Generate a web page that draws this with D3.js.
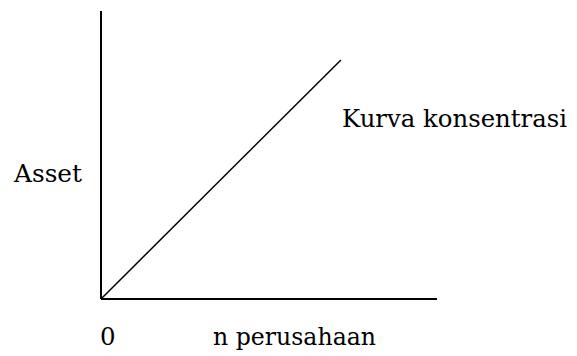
<!DOCTYPE html>
<html>
<head>
<meta charset="utf-8">
<script src="https://cdn.jsdelivr.net/npm/d3@7"></script>
<style>
html,body{margin:0;padding:0;background:#fff;}
svg{display:block;}
</style>
</head>
<body>
<svg id="chart" width="577" height="356"></svg>
<script>
// Data
const curveX = [0, 0.714];
const curveY = [0, 0.83];
const yLabel = "Asset";
const xLabel = "n perusahaan";
const originLabel = "0";
const curveLabel = "Kurva konsentrasi";

const svg = d3.select("#chart");
const x = d3.scaleLinear().domain([0, 1]).range([101, 437]);
const y = d3.scaleLinear().domain([0, 1]).range([299, 11]);

svg.append("line").attr("x1", x(0)).attr("x2", x(0)).attr("y1", y(0)).attr("y2", y(1))
  .attr("stroke", "#000").attr("stroke-width", 2);
svg.append("line").attr("x1", x(0)).attr("x2", x(1)).attr("y1", y(0)).attr("y2", y(0))
  .attr("stroke", "#000").attr("stroke-width", 2);

const pts = curveX.map((v, i) => [v, curveY[i]]);
svg.append("path").datum(pts)
  .attr("d", d3.line().x(d => x(d[0])).y(d => y(d[1])))
  .attr("fill", "none").attr("stroke", "#000").attr("stroke-width", 1.5);

const fs = 24.5;
const ff = "DejaVu Serif";
function label(tx, ty, t, len) {
  const el = svg.append("text").attr("x", tx).attr("y", ty)
    .attr("font-family", ff).attr("font-size", fs).attr("fill", "#000").text(t);
  if (len) el.attr("textLength", len).attr("lengthAdjust", "spacingAndGlyphs");
}
label(14, 182, yLabel, 68);
label(342, 127, curveLabel, 225);
label(100, 345, originLabel);
label(213, 345, xLabel, 163);
</script>
</body>
</html>
